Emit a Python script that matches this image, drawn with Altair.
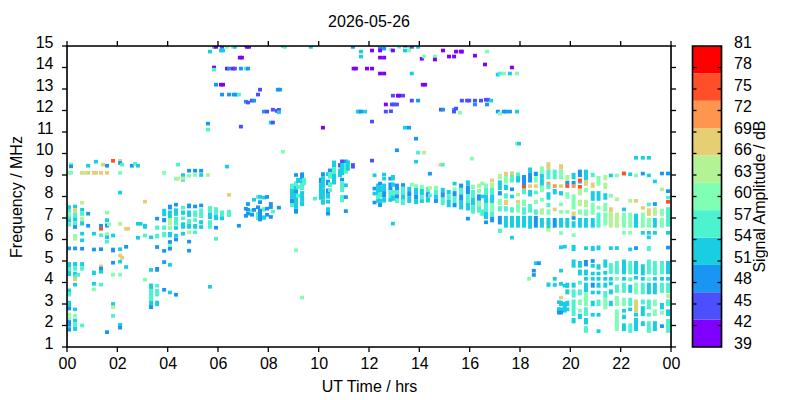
import altair as alt
import pandas as pd

TITLE = "2026-05-26"
X_TICKS = [0, 2, 4, 6, 8, 10, 12, 14, 16, 18, 20, 22, 24]
X_LABELS = ["00", "02", "04", "06", "08", "10", "12", "14", "16", "18", "20", "22", "00"]
Y_TICKS = [1, 2, 3, 4, 5, 6, 7, 8, 9, 10, 11, 12, 13, 14, 15]
BAR_TICKS = [39, 42, 45, 48, 51, 54, 57, 60, 63, 66, 69, 72, 75, 78, 81]
BAND_EDGES = [39, 42.82, 46.64, 50.45, 54.27, 58.09, 61.91, 65.73, 69.55, 73.36, 77.18, 81]
BAND_COLORS = ["#8000ff", "#4c4ffc", "#1996f3", "#19cee3", "#4cf3ce", "#80ffb4",
               "#b3f396", "#e6ce74", "#ff964f", "#ff4f28", "#ff0000"]

# amplitude levels, dB, one per colour band
P, I, B, C, T, G, Y, A, O, R, X = 41, 45, 48, 52, 56, 60, 64, 68, 71, 75, 79

# hour -> cells: (f, amp) single cell, (f_low, f_high, amp) run
LEFT = {
 0.08: [(9.1,G),(7.42,7.58,C),(7.25,7.42,T),(7.1,7.25,G),(6.95,7.1,T),(6.8,6.95,C),(6.6,6.8,T),(5.5,5.62,B),(4.7,4.95,C),(4.55,4.7,T),(4.3,4.55,C),(3.35,3.55,T),(3.55,3.72,C),(2.85,3.15,C),(2.7,2.82,B),(2.42,2.6,Y),(2.25,2.42,G),(1.95,2.25,B),(1.8,1.95,C),(1.72,1.8,B)],
 0.16: [(9.5,G),(9.4,B),(9.1,G)],
 0.32: [(7.45,7.6,C),(7.25,7.45,A),(7.0,7.25,T),(6.85,7.0,C),(6.65,6.85,T),(6.58,B),(6.08,6.18,G),(5.95,6.05,Y),(5.5,5.65,B),(4.75,4.95,C),(4.55,4.75,T),(4.3,4.5,C),(4.2,4.3,T),(4.15,A),(3.9,C),(2.75,C),(2.45,G),(2.15,2.3,C),(1.95,2.15,T),(1.75,1.95,C)],
 0.44: [(4.36,T)],
 0.6: [(9.1,A),(7.71,Y),(7.3,7.45,C),(7.1,7.3,T),(6.85,7.05,Y),(6.65,6.85,C),(6.27,C),(5.96,C),(5.57,B),(4.75,4.95,C),(4.55,4.75,T),(2.0,T)],
 0.68: [(9.1,Y)],
 0.84: [(9.43,C),(9.1,A),(7.2,B),(6.64,B)],
 1.07: [(9.1,A),(6.27,C),(5.45,5.62,B),(4.35,4.55,C),(3.94,C),(3.68,G)],
 1.15: [(9.62,C),(9.1,A)],
 1.35: [(9.1,A),(6.64,B),(6.5,R),(6.2,T),(5.55,B),(4.75,A),(4.65,B),(4.5,C),(3.9,T)],
 1.43: [(9.48,A)],
 1.59: [(9.43,B),(9.1,A),(7.25,G),(6.9,C),(6.7,T),(6.64,B),(6.25,G),(6.1,C),(5.9,T),(1.69,B)],
 1.67: [(6.7,G)],
 1.83: [(9.66,R),(6.1,6.25,C),(5.4,5.62,B),(4.92,B),(4.36,G),(3.0,C),(2.85,Y),(2.45,T)],
 2.11: [(9.66,A),(9.56,B),(9.1,G),(8.18,C),(6.73,Y),(5.55,C),(5.25,A),(4.97,C),(4.36,G),(1.95,2.1,C),(1.9,B)],
 2.19: [(9.48,T),(5.15,A)],
 2.35: [(6.5,A),(5.66,B),(4.72,C)],
 2.43: [(6.5,A)],
 2.58: [(9.43,B)],
 2.7: [(9.52,T)],
 2.82: [(9.43,C),(6.73,C),(6.08,C)],
 2.92: [(6.73,C)],
 3.1: [(7.76,A),(6.5,6.73,C),(6.1,6.2,T),(4.13,G)],
 3.34: [(6.1,C),(4.5,4.65,C),(3.7,3.95,C),(3.15,3.7,T),(2.85,3.15,C),(2.85,B)],
 3.58: [(6.97,B),(6.45,6.65,T),(6.05,6.27,T),(5.65,B),(4.5,4.72,B),(3.85,T),(3.35,3.7,T),(2.9,3.15,C)],
 3.86: [(9.1,G),(7.08,7.43,C),(6.8,7.0,B),(6.45,6.65,T),(6.1,6.35,T),(5.47,B),(4.95,B),(3.66,B)],
 4.09: [(7.4,7.62,B),(7.0,7.35,C),(6.65,7.0,Y),(6.45,6.6,G),(6.1,6.35,C),(5.8,5.9,B),(5.7,G),(5.57,B),(4.82,C),(3.45,3.55,C)],
 4.33: [(8.83,G),(7.62,B),(7.1,7.45,C),(6.65,7.05,T),(6.45,6.6,C),(6.18,C),(6.0,B),(3.43,B)],
 4.41: [(9.48,T),(8.83,Y)],
 4.61: [(9.0,C),(8.78,C),(8.83,Y),(7.48,T),(7.15,7.35,C),(6.9,7.05,T),(6.5,6.8,C),(6.27,C)],
 4.85: [(9.2,B),(8.97,G),(7.45,7.67,B),(7.05,7.35,C),(6.72,6.95,T),(6.5,6.72,C),(6.25,6.4,Y),(5.9,B),(5.48,B)],
 5.09: [(9.2,B),(9.0,G),(7.45,7.55,B),(7.05,7.35,T),(6.82,6.97,T),(6.5,6.72,C),(6.25,6.35,T)],
 5.33: [(9.2,B),(9.0,C),(7.5,7.62,B),(7.0,7.45,T),(6.7,6.9,C),(6.58,C)],
 5.6: [(9.0,Y)],
 5.68: [(7.25,7.55,T),(6.95,7.25,C),(6.5,6.9,T),(3.8,C)],
 5.92: [(7.15,7.5,T),(6.9,7.15,C),(6.55,B),(6.03,T)],
 6.16: [(7.0,7.35,T),(6.98,C)],
 6.36: [(9.39,C)],
 6.44: [(8.08,A),(7.05,7.38,T)],
 6.83: [(6.64,B)],
 7.11: [(7.43,B),(7.1,B)],
 7.19: [(7.65,B),(7.3,7.3,B),(7.2,B)],
 7.35: [(7.34,T),(7.15,B)],
 7.43: [(7.85,C),(7.38,B)],
 7.59: [(7.98,T),(7.5,B),(6.9,7.28,T)],
 7.67: [(7.98,C),(7.74,B),(7.0,7.43,B),(6.93,B)],
 7.83: [(7.95,C),(7.3,7.5,T),(6.92,7.12,C)],
 7.95: [(7.98,B),(7.35,7.5,B),(7.15,B)],
 8.1: [(7.42,7.74,B),(7.05,B)],
 8.18: [(7.3,T)],
 8.42: [(7.48,B)],
 8.58: [(10.08,G)],
 8.94: [(8.37,8.6,T),(7.9,8.37,C),(7.67,7.9,B),(7.51,7.67,T)],
 9.1: [(9.0,B),(8.5,8.7,T),(8.3,8.5,C),(8.13,8.28,B),(7.43,8.13,C),(7.2,7.43,B),(5.5,G)],
 9.18: [(8.63,8.87,C),(8.36,8.52,T),(7.95,8.13,T)],
 9.34: [(8.95,8.95,B),(8.79,8.95,B),(8.6,8.79,C),(8.3,8.6,T),(7.75,8.25,C),(7.55,7.75,C),(3.3,G)],
 9.42: [(8.52,8.87,T)],
 9.85: [(7.9,T)],
 10.09: [(8.6,8.87,B),(7.85,8.6,C)],
 10.17: [(8.95,9.13,B),(8.37,8.95,C),(7.85,8.37,C),(7.62,7.85,C)],
 10.37: [(8.95,9.13,C),(8.52,8.78,B),(8.13,8.37,B),(7.9,8.13,C),(7.67,7.85,C),(7.23,7.5,C),(7.2,B)],
 10.45: [(9.13,9.3,B),(8.83,9.13,T),(8.44,8.67,T),(8.29,T)],
 10.61: [(9.37,9.67,C),(9.07,9.37,T),(8.56,9.07,C)],
 10.85: [(9.35,9.55,I),(8.9,9.3,C)],
 10.93: [(9.55,9.7,I),(9.0,9.55,C),(8.7,8.83,B),(8.2,8.67,T),(7.98,T),(7.82,T)],
 11.08: [(9.55,9.68,B),(9.06,9.55,T),(8.44,8.6,C),(7.97,B),(7.32,B)],
 11.16: [(9.2,9.68,C)],
 11.36: [(9.3,9.55,I)],
}

MIDDLE = {
 12.12: [(9.67,I)],
 12.22: [(8.9,9.07,C),(8.37,B),(8.05,8.2,C),(7.72,B)],
 12.36: [(8.05,8.6,C),(7.85,8.05,T),(7.7,7.85,C)],
 12.44: [(8.6,B),(8.2,8.5,C),(7.95,8.2,T),(7.62,7.9,C),(7.6,B)],
 12.6: [(9.02,C),(8.83,C),(8.25,8.6,C),(7.95,8.25,B),(7.72,7.95,C)],
 12.85: [(8.83,B),(8.3,8.65,B),(7.95,8.3,T),(7.75,7.95,C)],
 12.95: [(8.75,9.0,C),(8.45,8.65,C),(8.05,8.3,T),(7.8,8.05,C),(6.74,C)],
 13.11: [(10.15,B),(8.3,8.6,B),(8.1,8.3,T),(7.9,8.1,B),(7.7,7.9,T)],
 13.35: [(8.45,8.6,B),(8.1,8.45,T),(7.85,8.1,C),(7.6,7.85,T)],
 13.6: [(8.25,8.45,C),(8.0,8.25,B),(7.7,8.0,C)],
 13.7: [(8.55,G)],
 13.87: [(9.62,C),(8.4,8.55,G),(8.1,8.4,C),(7.85,8.1,B),(7.65,7.85,C)],
 13.95: [(10.04,T)],
 14.1: [(8.35,8.55,G),(8.05,8.35,C),(7.85,8.05,T),(7.7,7.85,C)],
 14.19: [(10.04,Y)],
 14.34: [(8.2,8.45,T),(7.95,8.2,B),(7.72,7.95,C)],
 14.42: [(9.06,B),(8.4,Y),(8.05,T)],
 14.66: [(8.3,8.5,G),(8.05,8.3,T),(7.9,8.05,C),(7.7,7.9,B)],
 14.85: [(9.48,A)],
 14.93: [(9.48,T),(8.2,8.4,C),(7.95,8.2,B),(7.6,7.95,T)],
 15.17: [(8.1,8.3,C),(7.85,8.1,T),(7.5,7.85,C)],
 15.4: [(8.6,C),(8.25,8.4,G),(8.0,8.25,B),(7.7,8.0,T),(7.5,7.7,B)],
 15.66: [(8.4,8.6,B),(8.1,8.4,T),(7.8,8.1,B),(7.4,7.8,C)],
 15.93: [(8.5,8.75,C),(8.1,8.5,B),(7.7,8.1,T),(7.35,7.7,C),(6.97,B)],
 16.09: [(9.76,G)],
 16.13: [(8.35,8.55,G),(7.95,8.3,T),(7.6,7.95,C),(7.2,7.6,T)],
 16.37: [(8.4,8.6,Y),(8.15,8.35,G),(7.8,8.1,B),(7.55,7.8,G),(7.25,7.55,T)],
 16.5: [(8.6,G),(8.0,C),(7.1,7.4,T)],
 16.65: [(8.4,8.6,G),(8.1,8.4,T),(7.7,8.1,C),(7.3,7.7,T),(6.95,7.3,C),(6.8,B)],
 16.89: [(8.75,A),(8.4,8.65,Y),(8.1,8.4,T),(7.7,8.1,C),(7.3,7.7,G),(7.05,7.3,T),(6.8,7.05,B)],
 17.2: [(8.8,9.05,Y),(8.3,8.75,C),(8.05,8.25,B),(7.6,7.9,G),(7.3,7.55,T),(6.7,7.1,B),(6.3,6.5,T)],
 17.44: [(8.95,9.15,A),(8.6,8.95,G),(8.3,8.55,C),(7.9,8.15,T),(7.6,7.85,A),(7.3,7.55,T),(6.55,7.1,C)],
 17.68: [(9.0,9.15,A),(8.65,9.0,T),(8.25,8.4,B),(8.0,C),(7.25,7.5,T),(6.55,7.1,C),(6.0,6.15,C)],
 17.92: [(8.95,9.1,T),(8.65,8.95,C),(8.0,8.15,Y),(7.75,A),(7.25,7.65,G),(6.55,7.1,C)],
}

RIGHT = {
 18.16: [(8.5,9.0,B),(8.45,R),(8.1,8.35,T),(7.55,7.85,G),(7.15,7.5,T),(6.55,7.1,C)],
 18.36: [(4.17,G)],
 18.4: [(9.1,9.35,C),(8.65,9.1,B),(8.4,8.55,A),(8.0,8.3,C),(7.25,7.65,T),(6.5,7.1,C)],
 18.55: [(4.55,B),(4.35,B)],
 18.63: [(8.95,9.15,B),(8.65,8.95,G),(8.4,8.55,A),(8.1,8.25,T),(7.65,7.85,G),(7.15,7.4,T),(6.55,7.1,B),(4.9,C)],
 18.75: [(4.9,B)],
 18.87: [(9.05,9.4,G),(8.85,9.05,C),(8.5,8.85,C),(8.2,8.5,G),(7.85,G),(7.15,7.45,Y),(6.55,7.0,C)],
 19.13: [(9.25,9.6,A),(8.8,9.25,T),(8.6,O),(8.35,8.6,T),(7.85,8.2,C),(7.5,7.7,T),(7.15,7.4,G),(6.5,7.0,C),(6.45,Y),(3.8,4.0,C)],
 19.38: [(8.8,9.25,T),(8.4,8.55,O),(8.1,8.35,C),(7.4,A),(6.55,7.0,B),(4.17,C),(3.8,3.95,C)],
 19.55: [(3.0,3.1,C),(2.65,2.85,C),(2.6,B)],
 19.63: [(9.25,9.5,A),(8.8,9.25,G),(8.4,8.55,A),(8.05,8.25,C),(7.55,7.7,G),(7.2,7.35,G),(6.55,7.0,C),(6.3,G),(5.55,5.7,C),(4.55,C),(3.85,3.95,C),(3.3,A),(2.9,3.15,C),(2.75,C),(2.6,B)],
 19.78: [(5.58,5.7,C),(3.85,C),(2.6,3.1,C)],
 19.88: [(8.7,9.0,Y),(8.55,8.7,B),(8.4,8.55,R),(7.9,8.2,G),(7.2,7.35,G),(6.55,7.0,C),(3.75,3.99,C),(3.45,3.68,C),(2.9,3.15,C),(2.75,C)],
 20.13: [(8.8,9.1,C),(8.55,8.72,B),(8.4,8.55,O),(7.4,8.1,G),(7.1,7.3,A),(7.0,B),(6.55,6.85,C),(6.2,G),(5.46,5.75,C),(4.69,5.07,C),(3.76,3.99,C),(3.3,3.68,T),(2.44,3.21,T),(2.1,2.35,C)],
 20.38: [(8.9,9.25,B),(8.6,8.8,C),(8.75,R),(8.45,R),(8.05,8.35,Y),(7.55,7.85,Y),(7.15,7.4,G),(6.55,7.0,C),(4.69,5.0,C),(4.33,4.6,C),(3.99,T),(3.4,3.68,T),(2.95,3.21,G),(2.6,2.75,G),(2.3,2.55,C)],
 20.62: [(8.75,9.25,C),(8.5,8.75,A),(8.2,8.4,G),(7.5,7.85,Y),(7.1,7.4,G),(6.55,7.0,C),(5.6,C),(4.75,5.05,B),(4.33,4.6,C),(4.17,C),(3.55,3.99,C),(2.9,3.55,G),(2.44,2.85,T),(2.05,2.35,C),(1.66,1.97,T)],
 20.89: [(8.9,9.1,T),(8.4,8.65,A),(7.8,8.25,C),(7.15,7.7,G),(6.55,7.0,C),(5.46,5.7,C),(5.0,B),(4.69,4.85,C),(4.33,4.45,C),(4.17,C),(3.76,3.99,B),(3.45,3.6,C),(2.9,3.15,C),(2.5,C)],
 21.12: [(8.5,8.95,G),(7.8,8.25,C),(7.48,G),(6.55,7.25,T),(5.5,5.72,C),(4.6,4.85,C),(4.33,4.45,C),(4.17,C),(3.76,3.99,C),(3.45,3.6,C),(2.9,3.2,T),(2.5,C),(1.74,C)],
 21.39: [(8.75,9.0,Y),(8.35,8.65,Y),(7.85,8.15,C),(7.3,7.7,G),(6.65,7.25,G),(4.69,5.07,C),(4.45,C),(4.17,C),(3.76,3.99,C),(3.29,3.6,T),(2.75,3.29,G)],
 21.61: [(8.98,C),(7.95,8.1,G),(7.25,7.5,A),(6.55,7.25,Y),(5.6,C),(4.4,4.9,T),(4.17,C),(3.95,C),(3.45,3.68,C),(2.9,3.15,C)],
 21.85: [(8.98,G),(7.87,Y),(6.55,7.25,Y),(5.6,C),(4.38,5.0,T),(4.17,G),(3.52,3.9,T),(2.9,3.37,G),(1.74,2.75,G)],
 22.13: [(9.07,Y),(9.07,R),(7.4,C),(6.55,7.25,G),(6.31,G),(4.38,5.07,C),(4.17,C),(3.52,3.99,T),(2.9,3.29,G),(2.6,2.75,C),(2.3,2.5,C),(1.74,2.1,C)],
 22.38: [(8.95,9.1,C),(7.8,Y),(6.55,7.25,G),(6.31,G),(5.54,C),(4.38,5.0,T),(4.15,T),(3.52,3.9,C),(2.9,3.29,T),(2.75,C),(1.66,2.1,T)],
 22.61: [(9.8,C),(8.98,G),(7.8,A),(6.55,7.2,C),(5.6,B),(4.38,5.0,C),(4.22,C),(3.45,3.99,G),(2.59,3.21,A),(2.5,C),(1.74,2.35,C)],
 22.88: [(9.8,C),(8.98,9.07,B),(7.47,A),(6.55,7.25,G),(6.31,C),(4.33,4.85,C),(4.17,C),(3.45,3.99,T),(2.98,3.21,T),(2.44,2.9,C),(1.97,2.2,C)],
 23.12: [(9.8,C),(8.98,C),(7.63,T),(7.1,7.45,A),(6.55,7.0,G),(6.31,C),(6.1,C),(5.46,5.7,T),(4.38,5.07,T),(4.07,4.22,G),(3.45,3.99,C),(2.75,3.21,T),(2.5,T),(1.66,2.2,T)],
 23.36: [(8.7,C),(7.65,B),(7.1,7.5,Y),(6.55,7.0,C),(6.31,C),(4.33,5.0,T),(4.17,C),(3.45,3.99,C),(2.9,3.21,G),(2.44,2.75,G),(1.74,2.2,C)],
 23.64: [(9.07,B),(8.33,Y),(7.1,7.43,G),(6.55,7.0,G),(4.38,5.0,T),(4.17,C),(3.52,3.99,T),(2.75,3.05,C),(2.59,G),(1.97,B)],
 23.88: [(9.07,B),(8.25,B),(7.95,T),(7.75,R),(6.6,7.5,T),(6.31,C),(5.54,5.69,B),(4.38,5.0,C),(4.17,C),(3.52,3.99,T),(3.37,Y),(2.9,3.21,T),(2.44,2.75,C),(1.66,2.3,T)],
}

HIGH = {
 5.6: [(11.39,B),(11.11,T)],
 5.68: [(14.74,C)],
 5.84: [(14.96,C),(14.0,P),(13.9,T)],
 5.92: [(14.96,P),(13.2,B)],
 6.12: [(14.79,C),(13.2,P)],
 6.16: [(14.96,I),(12.74,B)],
 6.2: [(14.79,C),(13.2,P)],
 6.36: [(14.96,G),(13.95,P)],
 6.44: [(13.95,B),(12.74,B)],
 6.6: [(14.96,G),(13.95,P)],
 6.63: [(12.74,B)],
 6.67: [(14.96,C),(13.95,I)],
 6.72: [(12.74,B)],
 6.83: [(12.74,T)],
 6.87: [(14.46,P)],
 6.91: [(13.95,B),(11.25,I)],
 6.95: [(14.46,P)],
 7.11: [(15.02,B),(13.95,T),(12.41,B)],
 7.15: [(14.96,P)],
 7.19: [(13.95,B),(12.37,I)],
 7.23: [(14.96,P)],
 7.35: [(12.46,I)],
 7.43: [(12.46,B)],
 7.59: [(12.74,I)],
 7.67: [(12.97,I)],
 7.83: [(11.95,B)],
 7.95: [(11.95,I)],
 8.1: [(11.44,C)],
 8.18: [(11.44,I),(11.95,12.1,I)],
 8.34: [(11.98,I)],
 8.38: [(12.97,B)],
 8.42: [(12.03,I),(11.92,C)],
 8.46: [(12.97,B)],
 8.58: [(15.02,B)],
 8.66: [(14.96,T)],
 9.69: [(14.96,C)],
 10.17: [(11.2,P)],
 11.36: [(14.96,B)],
 11.39: [(13.95,P)],
 11.48: [(13.95,P)],
 11.56: [(11.95,C)],
 11.6: [(11.95,C)],
 11.68: [(14.74,C),(14.51,C),(11.95,B)],
 11.84: [(11.95,C)],
 11.92: [(13.95,P)],
 12.12: [(14.79,P),(13.95,P),(11.4,11.55,I)],
 12.44: [(14.88,B),(14.79,P),(14.46,P),(13.72,P)],
 12.6: [(14.88,B),(14.46,P),(13.72,P)],
 12.67: [(12.28,P),(11.95,I)],
 12.87: [(14.83,G),(11.88,12.02,I)],
 12.91: [(12.28,I)],
 12.95: [(14.79,P),(12.69,I)],
 13.0: [(12.28,I)],
 13.11: [(12.28,I)],
 13.15: [(12.69,P)],
 13.2: [(14.97,T),(12.69,P)],
 13.35: [(12.69,I)],
 13.43: [(15.02,P),(14.79,C),(11.2,C)],
 13.59: [(15.02,P),(14.79,G),(14.97,G),(11.2,B)],
 13.7: [(14.96,I),(13.72,C),(12.46,I)],
 13.87: [(10.69,B)],
 13.95: [(14.96,C),(12.46,B)],
 14.1: [(14.41,P)],
 14.14: [(13.2,P)],
 14.18: [(14.51,G)],
 14.23: [(13.2,P)],
 14.62: [(14.51,G),(14.37,P)],
 14.86: [(12.04,I)],
 14.94: [(14.79,P),(12.04,B)],
 15.18: [(14.51,P)],
 15.38: [(14.51,P),(12.04,B),(11.95,I)],
 15.46: [(14.74,P),(12.09,I)],
 15.61: [(11.9,G)],
 15.65: [(14.74,P)],
 15.69: [(14.74,P),(12.46,I)],
 15.9: [(12.46,I)],
 15.98: [(12.46,I)],
 16.21: [(14.55,P),(12.46,I),(12.28,B)],
 16.45: [(12.46,I)],
 16.61: [(14.14,P)],
 16.65: [(12.5,I)],
 16.69: [(14.74,G),(12.28,B)],
 16.73: [(12.5,I)],
 16.85: [(12.46,C)],
 17.12: [(13.67,C),(11.95,B)],
 17.2: [(13.72,T),(11.86,G)],
 17.36: [(13.72,G),(11.95,B)],
 17.44: [(11.95,B)],
 17.6: [(13.72,C),(11.95,B)],
 17.68: [(14.0,P)],
 17.88: [(13.72,G),(11.95,C),(10.46,G)],
 17.96: [(10.46,C)],
}

rows = []
for block in (LEFT, MIDDLE, RIGHT, HIGH):
    for hour, cells in block.items():
        for cell in cells:
            if len(cell) == 2:
                lo, hi, amp = cell[0] - 0.085, cell[0] + 0.085, cell[1]
            else:
                lo, hi, amp = cell[0], max(cell[1], cell[0] + 0.17), cell[2]
            rows.append({"t": hour, "f1": lo, "f2": hi, "amp": amp})
cells_df = pd.DataFrame(rows)

W, H = 604, 301
FONT = "Liberation Sans"
x_scale = alt.Scale(domain=[0, 24], nice=False, zero=False)
y_scale = alt.Scale(domain=[1, 15], nice=False, zero=False)

x_axis = alt.Axis(values=X_TICKS, tickSize=0, grid=False, domain=False, labelPadding=8,
                  labelFontSize=16, titleFontSize=16, labelFlush=False, labelOverlap=False, titlePadding=7,
                  title="UT Time / hrs", titleFontWeight="normal",
                  labelExpr=f"{X_LABELS}[indexof({X_TICKS}, datum.value)]")
y_axis = alt.Axis(values=Y_TICKS, tickSize=0, grid=False, domain=False, labelPadding=14, labelOffset=-4,
                  labelFontSize=16, titleFontSize=16, labelOverlap=False, labelFlush=False, titlePadding=10.5,
                  title="Frequency / MHz", titleFontWeight="normal")

marks = alt.Chart(cells_df).mark_rect(width=4, clip=True).encode(
    x=alt.X("t:Q", scale=x_scale, axis=x_axis),
    y=alt.Y("f1:Q", scale=y_scale, axis=y_axis),
    y2="f2:Q",
    color=alt.Color("amp:Q", legend=None,
                    scale=alt.Scale(type="threshold", domain=BAND_EDGES[1:-1], range=BAND_COLORS)),
)
xt = pd.DataFrame({"v": X_TICKS})
yt = pd.DataFrame({"v": Y_TICKS})
bt = pd.DataFrame({"v": BAR_TICKS[1:-1]})
TL = 5
x_bottom = alt.Chart(xt).mark_rule(color="black", strokeWidth=1.3).encode(
    x=alt.X("v:Q", scale=x_scale, axis=x_axis), y=alt.value(H), y2=alt.value(H + TL))
x_top = alt.Chart(xt).mark_rule(color="black", strokeWidth=1.3).encode(
    x=alt.X("v:Q", scale=x_scale, axis=x_axis), y=alt.value(0), y2=alt.value(-TL))
y_left = alt.Chart(yt).mark_rule(color="black", strokeWidth=1.3).encode(
    y=alt.Y("v:Q", scale=y_scale, axis=y_axis), x=alt.value(0), x2=alt.value(-TL))
y_right = alt.Chart(yt).mark_rule(color="black", strokeWidth=1.3).encode(
    y=alt.Y("v:Q", scale=y_scale, axis=y_axis), x=alt.value(W), x2=alt.value(W + TL))
frame = alt.Chart(xt.head(1)).mark_rect(fill=None, stroke="black", strokeWidth=1.6).encode(
    x=alt.value(0), x2=alt.value(W), y=alt.value(0), y2=alt.value(H))

main = alt.layer(marks, x_bottom, x_top, y_left, y_right, frame).properties(
    width=W, height=H,
    title=alt.TitleParams(TITLE, fontSize=16, fontWeight="normal", font=FONT, offset=4, anchor="middle"))

BW = 29
bands = pd.DataFrame({"a": BAND_EDGES[:-1], "b": BAND_EDGES[1:], "c": BAND_COLORS})
bar_scale = alt.Scale(domain=[39, 81], nice=False, zero=False)
bar_axis = alt.Axis(
    orient="right", values=BAR_TICKS, tickSize=0, grid=False, domain=False, labelPadding=12, labelOffset=-4,
    labelFontSize=16, titleFontSize=16, labelOverlap=False, labelFlush=False, title="Signal Amplitude / dB",
    titleFontWeight="normal", titleX=46, titleY=150, titleAngle=270)
bar = alt.Chart(bands).mark_rect().encode(
    x=alt.value(0), x2=alt.value(BW),
    y=alt.Y("a:Q", scale=bar_scale, axis=bar_axis),
    y2="b:Q",
    color=alt.Color("c:N", scale=None, legend=None),
)
bar_l = alt.Chart(bt).mark_rule(color="black", strokeWidth=1.3).encode(
    y=alt.Y("v:Q", scale=bar_scale, axis=bar_axis), x=alt.value(0), x2=alt.value(4))
bar_r = alt.Chart(bt).mark_rule(color="black", strokeWidth=1.3).encode(
    y=alt.Y("v:Q", scale=bar_scale, axis=bar_axis), x=alt.value(BW), x2=alt.value(BW - 4))
bar_frame = alt.Chart(xt.head(1)).mark_rect(fill=None, stroke="black", strokeWidth=1.6).encode(
    x=alt.value(0), x2=alt.value(BW), y=alt.value(0), y2=alt.value(H))
side = alt.layer(bar, bar_l, bar_r, bar_frame).properties(width=BW, height=H)

chart = alt.hconcat(main, side, spacing=9.5).properties(
    padding={"left": 0, "top": 5, "right": 0, "bottom": 0}
).configure_view(stroke=None).configure(
    font=FONT, background="white"
).configure_axis(labelFont=FONT, titleFont=FONT, labelColor="black", titleColor="black")

chart.save("out.html", embed_options={"renderer": "svg", "actions": False})
